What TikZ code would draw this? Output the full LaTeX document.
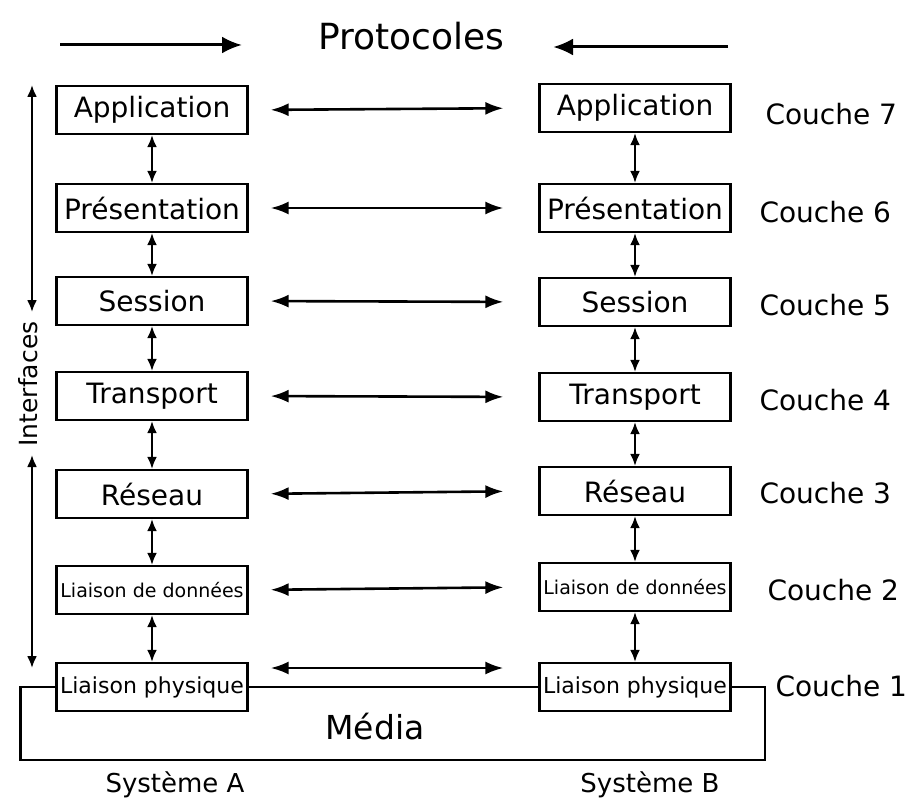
\documentclass[tikz,border=0pt]{standalone}
\usepackage{fontspec}
\setmainfont{DejaVu Sans}
\usetikzlibrary{arrows.meta}
\newcommand{\fs}[1]{\fontsize{#1}{#1}\selectfont}
\tikzset{
  layer/.style={draw, line width=2.2pt, minimum width=191pt, minimum height=48pt, inner sep=2pt, font=\fs{28}},
  harr/.style={line width=2.6pt, {Latex[length=18pt,width=13pt]}-{Latex[length=18pt,width=13pt]}},
  varr/.style={line width=2.2pt, {Latex[length=12pt,width=10pt]}-{Latex[length=12pt,width=10pt]}},
  toparr/.style={line width=3pt, -{Latex[length=20pt,width=17pt]}},
  couche/.style={anchor=west, font=\fs{28}},
  media/.style={line width=2.2pt},
}
\begin{document}
\begin{tikzpicture}[x=1pt,y=-1pt]
\useasboundingbox (0,0) rectangle (911,808);
% title and top arrows
\node[font=\fs{36}] (proto) at (411,36) {Protocoles};
\coordinate (tla) at (60,45);  \coordinate (tlb) at (242,45);
\coordinate (tra) at (728,47); \coordinate (trb) at (553,47);
\draw[toparr] (tla) -- (tlb);
\draw[toparr] (tra) -- (trb);
% left column
\node[layer] (L7) at (152,110) {Application};
\node[layer] (L6) at (152,208) {Présentation};
\node[layer] (L5) at (152,301) {Session};
\node[layer] (L4) at (152,396) {Transport};
\node[layer] (L3) at (152,494) {Réseau};
\node[layer, font=\fs{19}] (L2) at (152,590) {Liaison de données};
\node[layer, font=\fs{22}] (L1) at (152,687) {Liaison physique};
% right column
\node[layer] (R7) at (635,108) {Application};
\node[layer] (R6) at (635,208) {Présentation};
\node[layer] (R5) at (635,302) {Session};
\node[layer] (R4) at (635,397) {Transport};
\node[layer] (R3) at (635,491) {Réseau};
\node[layer, font=\fs{19}] (R2) at (635,587) {Liaison de données};
\node[layer, font=\fs{22}] (R1) at (635,687) {Liaison physique};
% horizontal protocol arrows
\foreach \i in {7,6,5,4,3,2}{
  \draw[harr, shorten <=22pt, shorten >=35pt] (L\i.east) -- (R\i.west);
}
\draw[harr, shorten <=22pt, shorten >=35pt] ([yshift=19pt]L1.east) -- ([yshift=19pt]R1.west);
% vertical interface arrows
\foreach \a/\b in {7/6,6/5,5/4,4/3,3/2,2/1}{
  \draw[varr] (L\a.south) -- (L\b.north);
  \draw[varr] (R\a.south) -- (R\b.north);
}
% couche labels
\node[couche] (c7) at (762,114) {Couche 7};
\node[couche] (c6) at (756,212) {Couche 6};
\node[couche] (c5) at (756,305) {Couche 5};
\node[couche] (c4) at (756,400) {Couche 4};
\node[couche] (c3) at (756,493) {Couche 3};
\node[couche] (c2) at (764,590) {Couche 2};
\node[couche] (c1) at (772,686) {Couche 1};
% interfaces
\coordinate (ia) at (32,85);  \coordinate (ib) at (32,312);
\coordinate (ic) at (32,455); \coordinate (id) at (32,668);
\draw[varr] (ia) -- (ib);
\draw[varr] (ic) -- (id);
\node[rotate=90, font=\fs{25}] (intf) at (28,384) {Interfaces};
% media
\draw[media] (L1.west) -- ++(-35,0) coordinate (m1) |- (765,760) coordinate (m3) |- (R1.east);
\draw[media] (L1.east) -- (R1.west);
\node[font=\fs{33}] (media) at (375,727) {Média};
% systems
\node[font=\fs{26}] (sA) at (175,785) {Système A};
\node[font=\fs{26}] (sB) at (650,785) {Système B};
\end{tikzpicture}
\end{document}
